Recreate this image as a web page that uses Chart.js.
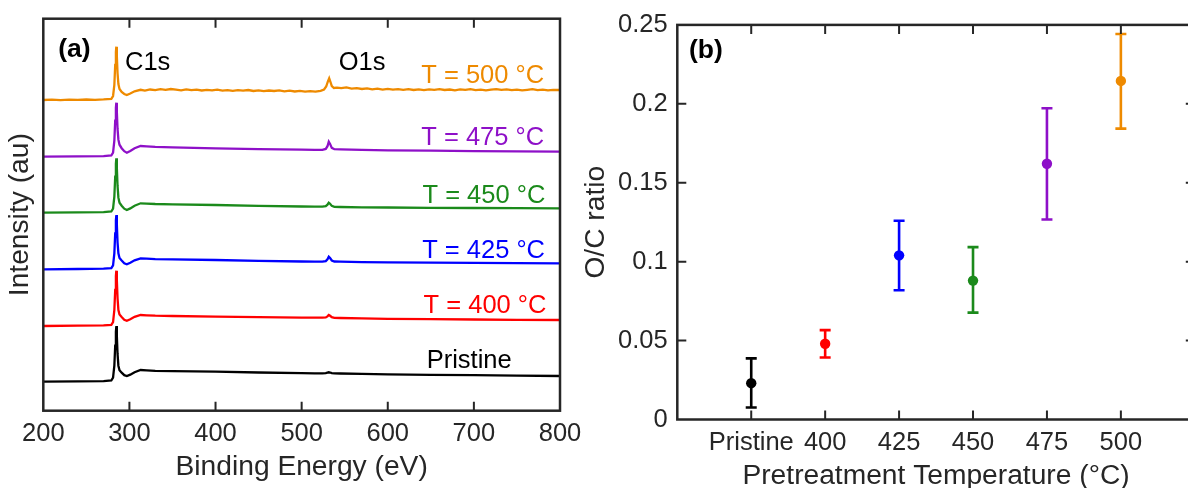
<!DOCTYPE html>
<html><head><meta charset="utf-8">
<script src="https://cdn.jsdelivr.net/npm/chart.js@4.4.1/dist/chart.umd.min.js"></script>
<style>
html,body{margin:0;padding:0;background:#fff;overflow:hidden;width:1188px;height:488px;}
#wrap{position:relative;width:1188px;height:488px;overflow:hidden;background:#fff;}
#cA{position:absolute;left:0;top:0;}
#cB{position:absolute;left:570px;top:0;}
</style></head><body>
<div id="wrap">
<canvas id="cA" width="590" height="500"></canvas>
<canvas id="cB" width="630" height="500"></canvas>
</div>
<script>
// ---------------- DATA: panel (a) XPS survey spectra ----------------
const xTickValuesEV = [200, 300, 400, 500, 600, 700, 800];
const bindingEnergyEV = [200, 240, 270, 279, 281, 282.5, 283.5, 284.3, 284.8, 285.4, 286.2, 287.2, 288.5, 291, 294, 297, 301, 306, 313, 320, 330, 350, 400, 450, 500, 515, 524, 528, 530, 531.5, 533, 535, 538, 545, 570, 600, 650, 700, 750, 800];
const intensityPristine = [0, 0.3, 0.6, 1.2, 4, 16, 36, 50, 55.7, 46, 28, 16, 11.5, 9, 6.5, 5.7, 7, 9.5, 11.7, 11.3, 10.8, 10.5, 10, 9.2, 8.6, 8.4, 8.4, 8.5, 9, 9.4, 9.2, 8.6, 8.3, 8.2, 7.8, 7.4, 6.9, 6.5, 6.1, 5.7];
const intensityT400 = [0, 0.3, 0.6, 1.2, 4, 16, 36, 50, 55.3, 46, 28, 16, 11.5, 9, 6.3, 5.3, 6.8, 9.2, 11.0, 10.7, 10.3, 10.0, 9.3, 8.8, 8.4, 8.3, 8.3, 8.6, 9.6, 11.0, 10.2, 8.8, 8.1, 8.0, 7.6, 7.2, 6.8, 6.5, 6.2, 6.0];
const intensityT425 = [0, 0.3, 0.6, 1.2, 4, 16, 36, 49, 54.3, 45, 27, 16, 11.3, 8.8, 6, 5.0, 6.6, 9.0, 11.0, 10.6, 10.2, 9.9, 9.3, 8.5, 7.8, 7.6, 7.6, 8.2, 10.0, 12.6, 11.3, 8.8, 7.8, 7.6, 7.2, 7.0, 6.7, 6.4, 6.2, 6.0];
const intensityT450 = [0, 0.3, 0.6, 1.2, 4, 16, 36, 49, 54.4, 45, 27, 15, 10, 7, 4, 2.7, 4.3, 7.0, 9.4, 9.1, 8.7, 8.3, 7.7, 6.9, 6.2, 6.0, 6.0, 6.5, 8.0, 10.0, 9.0, 6.8, 5.9, 5.7, 5.4, 5.2, 4.9, 4.7, 4.5, 4.4];
const intensityT475 = [0, 0.3, 0.6, 1.2, 4, 16, 36, 49, 54.0, 45, 28, 17, 12, 8.5, 5.5, 4.0, 5.8, 8.5, 10.7, 10.4, 9.9, 9.4, 8.3, 7.6, 7.0, 6.8, 6.9, 7.8, 10.5, 15.0, 12.8, 8.8, 7.5, 7.3, 6.8, 6.4, 6.0, 5.6, 5.3, 5.0];
const bindingEnergyT500EV = [200,210,220,230,240,250,260,270,279,281,282.5,283.5,284.3,284.8,285.4,286.2,287.2,288.5,291,294,297,301,306,313,318,324,330,336,342,348,354,360,366,372,378,384,390,396,402,408,414,420,426,432,438,444,450,456,462,468,474,480,486,492,498,504,510,516,522,526,528.5,530.5,532,533.5,535,537.5,541,546,552,558,564,570,576,582,588,594,600,606,612,618,624,630,636,642,648,654,660,666,672,678,684,690,696,702,708,714,720,726,732,738,744,750,756,762,768,774,780,786,792,800];
const intensityT500 = [0.0,0.4,-0.2,0.3,0.1,0.5,0.2,0.6,1.2,4,15,35,48,53.3,44,27,16,11,8,6,5.0,6.5,8.7,10.2,9.4,10.5,9.8,10.8,10.1,11.0,10.3,9.7,10.6,9.9,10.4,9.5,10.2,9.6,10.4,9.3,9.9,9.1,9.8,9.4,10.0,9.0,9.6,8.8,9.5,9.0,9.7,8.7,9.3,8.5,9.1,8.3,8.9,8.4,9.2,10.5,13.5,18.5,21.7,18.0,14.0,12.0,12.4,11.8,12.6,11.4,11.9,11.0,11.6,10.7,11.3,10.4,11.1,10.3,10.9,10.1,10.8,10.0,10.6,9.8,10.7,10.2,10.9,10.0,10.5,9.7,10.6,10.1,10.8,9.9,10.4,9.6,10.3,10.9,10.1,10.6,9.8,10.4,9.7,10.2,10.8,9.9,10.3,9.6,10.2,10.0];
// vertical stacking offsets of the spectra (arbitrary units)
const stackOffsetAU = [29.0, 84.7, 141.4, 198.0, 254.0, 310.7];
const spectrumLabels = ['Pristine', 'T = 400 \u00B0C', 'T = 425 \u00B0C', 'T = 450 \u00B0C', 'T = 475 \u00B0C', 'T = 500 \u00B0C'];

// ---------------- DATA: panel (b) O/C ratio ----------------
const tempCategories = ['Pristine', '400', '425', '450', '475', '500'];
const ocRatioMean  = [0.023, 0.048, 0.104, 0.088, 0.162, 0.2145];
const ocRatioLower = [0.0076, 0.0393, 0.0819, 0.0677, 0.1267, 0.1843];
const ocRatioUpper = [0.0387, 0.0566, 0.1259, 0.1092, 0.1972, 0.2442];
const ocYTicks = [0, 0.05, 0.1, 0.15, 0.2, 0.25];

// ---------------- styles ----------------
const FONT = "'Liberation Sans', Arial, Helvetica, sans-serif";
const AXIS_COLOR = '#262626';
const seriesColors = ['#000000', '#ff0000', '#0000ff', '#1b8a1b', '#8e10c8', '#ee8a00'];
const TICK_SIZE = 25.5;
const TITLE_SIZE = 28.2;
const NOTE_SIZE = 25.5;

Chart.defaults.font.family = FONT;
Chart.defaults.color = AXIS_COLOR;

function framePlugin(withY) {
  return {
    id: 'frame',
    afterDraw(chart) {
      const {ctx, chartArea: a, scales} = chart;
      const L = 9;
      ctx.save();
      ctx.strokeStyle = AXIS_COLOR;
      ctx.lineWidth = 2;
      ctx.beginPath();
      scales.x.ticks.forEach(t => {
        const px = scales.x.getPixelForValue(t.value);
        if (px <= a.left + 1 || px >= a.right - 1) return;
        ctx.moveTo(px, a.bottom); ctx.lineTo(px, a.bottom - L);
        ctx.moveTo(px, a.top); ctx.lineTo(px, a.top + L);
      });
      if (withY) {
        scales.y.ticks.forEach(t => {
          const py = scales.y.getPixelForValue(t.value);
          if (py <= a.top + 1 || py >= a.bottom - 1) return;
          ctx.moveTo(a.left, py); ctx.lineTo(a.left + L, py);
          ctx.moveTo(a.right, py); ctx.lineTo(a.right - L, py);
        });
      }
      ctx.stroke();
      ctx.lineWidth = 2.5;
      ctx.strokeRect(a.left, a.top, a.right - a.left, a.bottom - a.top);
      ctx.restore();
    }
  };
}

// ---------------- panel (a) ----------------
const spectraX = [bindingEnergyEV, bindingEnergyEV, bindingEnergyEV, bindingEnergyEV, bindingEnergyEV, bindingEnergyT500EV];
const spectraY = [intensityPristine, intensityT400, intensityT425, intensityT450, intensityT475, intensityT500];

const datasetsA = spectraY.map((vals, k) => ({
  label: spectrumLabels[k],
  data: vals.map((v, i) => ({x: spectraX[k][i], y: v + stackOffsetAU[k]})),
  borderColor: seriesColors[k],
  borderWidth: 2.3,
  pointRadius: 0,
  tension: 0,
  fill: false
}));

// text annotations, placed in data coordinates [energy eV, intensity au]
const annotationsA = [
  {text: '(a)', x: 217.4, y: 360.7, align: 'left', color: '#000', bold: true, size: 26.5},
  {text: 'C1s', x: 294.9, y: 347.3, align: 'left', color: '#000', size: NOTE_SIZE},
  {text: 'O1s', x: 543, y: 347.3, align: 'left', color: '#000', size: NOTE_SIZE},
  {text: spectrumLabels[5], x: 781.6, y: 334.9, align: 'right', color: seriesColors[5], size: NOTE_SIZE},
  {text: spectrumLabels[4], x: 781.6, y: 273.2, align: 'right', color: seriesColors[4], size: NOTE_SIZE},
  {text: spectrumLabels[3], x: 783.0, y: 214.9, align: 'right', color: seriesColors[3], size: NOTE_SIZE},
  {text: spectrumLabels[2], x: 782.6, y: 160.2, align: 'right', color: seriesColors[2], size: NOTE_SIZE},
  {text: spectrumLabels[1], x: 784.3, y: 104.9, align: 'right', color: seriesColors[1], size: NOTE_SIZE},
  {text: spectrumLabels[0], x: 645.2, y: 50.2, align: 'left', color: '#000', size: NOTE_SIZE}
];

const annotPluginA = {
  id: 'annotA',
  afterDraw(chart) {
    const {ctx, scales} = chart;
    ctx.save();
    annotationsA.forEach(a => {
      ctx.font = (a.bold ? 'bold ' : '') + a.size + 'px ' + FONT;
      ctx.fillStyle = a.color;
      ctx.textAlign = a.align;
      ctx.textBaseline = 'middle';
      ctx.fillText(a.text, scales.x.getPixelForValue(a.x), scales.y.getPixelForValue(a.y));
    });
    ctx.restore();
  }
};

new Chart(document.getElementById('cA'), {
  type: 'line',
  data: {datasets: datasetsA},
  options: {
    responsive: false, animation: false, devicePixelRatio: 1,
    layout: {padding: {top: 18.7, right: 30, left: 0, bottom: 0}},
    plugins: {legend: {display: false}, tooltip: {enabled: false}},
    scales: {
      x: {
        type: 'linear', min: 200, max: 800,
        afterBuildTicks: s => { s.ticks = xTickValuesEV.map(v => ({value: v})); },
        grid: {display: false, drawTicks: false, tickLength: 0},
        border: {display: false},
        ticks: {font: {size: TICK_SIZE}, color: AXIS_COLOR, padding: 7.9, maxRotation: 0, autoSkip: false},
        title: {display: true, text: 'Binding Energy (eV)', font: {size: TITLE_SIZE}, color: AXIS_COLOR, padding: {top: 0, bottom: 15.9}},
        afterFit: s => { s.height = 500 - 410.7; }
      },
      y: {
        type: 'linear', min: 0, max: 392,
        grid: {display: false, drawTicks: false, tickLength: 0},
        border: {display: false},
        ticks: {display: false},
        title: {display: true, text: 'Intensity (au)', font: {size: TITLE_SIZE}, color: AXIS_COLOR, padding: {top: 3.8, bottom: 0}},
        afterFit: s => { s.width = 43.3; }
      }
    }
  },
  plugins: [framePlugin(false), annotPluginA]
});

// ---------------- panel (b) ----------------
const errorBarPlugin = {
  id: 'errbars',
  beforeDatasetsDraw(chart) {
    const {ctx, scales} = chart;
    ctx.save();
    ctx.lineWidth = 2.6;
    ocRatioMean.forEach((m, i) => {
      const px = scales.x.getPixelForValue(i + 1);
      const pt = scales.y.getPixelForValue(ocRatioUpper[i]);
      const pb = scales.y.getPixelForValue(ocRatioLower[i]);
      ctx.strokeStyle = seriesColors[i];
      ctx.beginPath();
      ctx.moveTo(px, pt); ctx.lineTo(px, pb);
      ctx.moveTo(px - 5.5, pt); ctx.lineTo(px + 5.5, pt);
      ctx.moveTo(px - 5.5, pb); ctx.lineTo(px + 5.5, pb);
      ctx.stroke();
    });
    ctx.restore();
  }
};
const labelPluginB = {
  id: 'labelB',
  afterDraw(chart) {
    const {ctx, scales} = chart;
    ctx.save();
    ctx.font = 'bold 26.5px ' + FONT;
    ctx.fillStyle = '#000';
    ctx.textAlign = 'left';
    ctx.textBaseline = 'middle';
    ctx.fillText('(b)', scales.x.getPixelForValue(0.157), scales.y.getPixelForValue(0.2337));
    ctx.restore();
  }
};

new Chart(document.getElementById('cB'), {
  type: 'scatter',
  data: {
    datasets: [{
      label: 'O/C ratio',
      data: ocRatioMean.map((m, i) => ({x: i + 1, y: m})),
      pointRadius: 5.2,
      pointBackgroundColor: seriesColors,
      pointBorderColor: seriesColors,
      pointBorderWidth: 0,
      showLine: false
    }]
  },
  options: {
    responsive: false, animation: false, devicePixelRatio: 1,
    layout: {padding: {top: 20, right: 3.6, left: 0, bottom: 0}},
    plugins: {legend: {display: false}, tooltip: {enabled: false}},
    scales: {
      x: {
        type: 'linear', min: 0, max: 7,
        afterBuildTicks: s => { s.ticks = tempCategories.map((c, i) => ({value: i + 1})); },
        grid: {display: false, drawTicks: false, tickLength: 0},
        border: {display: false},
        ticks: {font: {size: TICK_SIZE}, color: AXIS_COLOR, padding: 8.1, maxRotation: 0, autoSkip: false,
                callback: v => tempCategories[Math.round(v) - 1]},
        title: {display: true, text: 'Pretreatment Temperature (\u00B0C)', font: {size: TITLE_SIZE}, color: AXIS_COLOR, padding: {top: 0, bottom: 6.8}},
        afterFit: s => { s.height = 500 - 419.5; }
      },
      y: {
        type: 'linear', min: 0, max: 0.25,
        afterBuildTicks: s => { s.ticks = ocYTicks.map(v => ({value: v})); },
        grid: {display: false, drawTicks: false, tickLength: 0},
        border: {display: false},
        ticks: {font: {size: TICK_SIZE}, color: AXIS_COLOR, padding: 9.6, callback: v => String(+(+v).toFixed(2))},
        title: {display: true, text: 'O/C ratio', font: {size: TITLE_SIZE}, color: AXIS_COLOR, padding: {top: 9.1, bottom: 0}},
        afterFit: s => { s.width = 107.3; }
      }
    }
  },
  plugins: [errorBarPlugin, framePlugin(true), labelPluginB]
});
</script>
</body></html>
